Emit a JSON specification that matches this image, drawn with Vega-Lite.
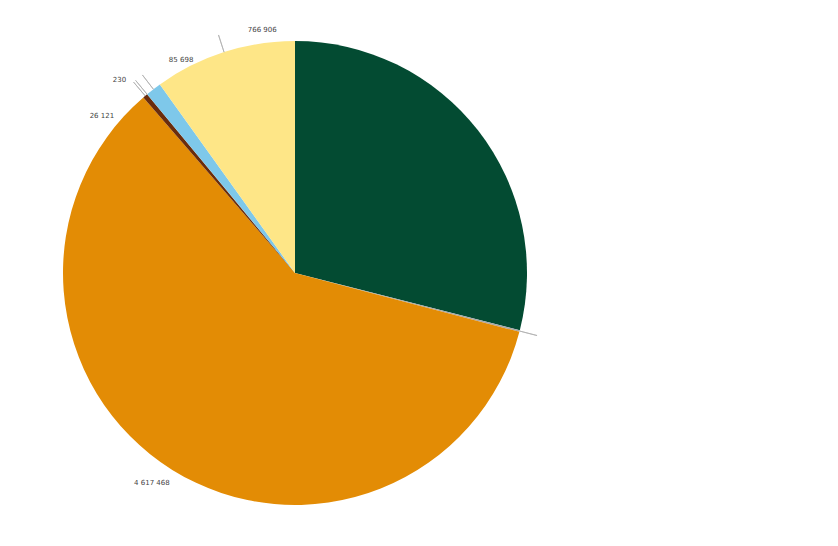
{
  "$schema": "https://vega.github.io/schema/vega-lite/v6.json",
  "width": 590,
  "height": 546,
  "padding": 0,
  "autosize": "none",
  "background": "white",
  "view": {"stroke": null},
  "data": {
    "values": [
      {"name": "A", "value": 2245000, "label": "", "order": 1},
      {"name": "B", "value": 9000, "label": "", "order": 2},
      {"name": "C", "value": 4617468, "label": "4 617 468", "order": 3},
      {"name": "D", "value": 26121, "label": "26 121", "order": 4},
      {"name": "E", "value": 230, "label": "230", "order": 5},
      {"name": "F", "value": 85698, "label": "85 698", "order": 6},
      {"name": "G", "value": 766906, "label": "766 906", "order": 7}
    ]
  },
  "transform": [
    {"stack": "value", "groupby": [], "sort": [{"field": "order", "order": "ascending"}], "as": ["v0", "v1"]},
    {"calculate": "(datum.v0 + datum.v1) / 2", "as": "mid"}
  ],
  "layer": [
    {
      "mark": {"type": "arc", "outerRadius": 232, "innerRadius": 0},
      "encoding": {
        "theta": {"field": "v1", "type": "quantitative", "scale": {"zero": true, "nice": false}},
        "theta2": {"field": "v0"},
        "color": {
          "field": "name",
          "type": "nominal",
          "scale": {"domain": ["A", "B", "C", "D", "E", "F", "G"], "range": ["#034b32", "#a8a8a8", "#e38c05", "#6a2c0c", "#8a6a3a", "#7ec8ea", "#fee687"]},
          "legend": null
        }
      }
    },
    {
      "transform": [{"filter": "datum.name != 'A' && datum.name != 'C'"}],
      "mark": {"type": "arc", "radius": 250, "radius2": 232, "stroke": "#b0b0b0", "strokeWidth": 0.8, "fill": null},
      "encoding": {
        "theta": {"field": "mid", "type": "quantitative"},
        "theta2": {"field": "mid"}
      }
    },
    {
      "transform": [{"filter": "datum.name == 'G'"}],
      "mark": {"type": "text", "radius": 246, "align": "left", "baseline": "middle", "dx": 28, "dy": -9, "fontSize": 7, "font": "DejaVu Sans", "fill": "#444444"},
      "encoding": {"theta": {"field": "mid", "type": "quantitative"}, "text": {"field": "label"}}
    },
    {
      "transform": [{"filter": "datum.name == 'F'"}],
      "mark": {"type": "text", "radius": 246, "align": "left", "baseline": "middle", "dx": 24, "dy": -18, "fontSize": 7, "font": "DejaVu Sans", "fill": "#444444"},
      "encoding": {"theta": {"field": "mid", "type": "quantitative"}, "text": {"field": "label"}}
    },
    {
      "transform": [{"filter": "datum.name == 'E'"}],
      "mark": {"type": "text", "radius": 246, "align": "right", "baseline": "middle", "dx": -12, "dy": -3, "fontSize": 7, "font": "DejaVu Sans", "fill": "#444444"},
      "encoding": {"theta": {"field": "mid", "type": "quantitative"}, "text": {"field": "label"}}
    },
    {
      "transform": [{"filter": "datum.name == 'D'"}],
      "mark": {"type": "text", "radius": 246, "align": "right", "baseline": "middle", "dx": -22, "dy": 31, "fontSize": 7, "font": "DejaVu Sans", "fill": "#444444"},
      "encoding": {"theta": {"field": "mid", "type": "quantitative"}, "text": {"field": "label"}}
    },
    {
      "transform": [{"filter": "datum.name == 'C'"}],
      "mark": {"type": "text", "radius": 246, "align": "center", "baseline": "middle", "dx": -13, "dy": 1, "fontSize": 7, "font": "DejaVu Sans", "fill": "#444444"},
      "encoding": {"theta": {"field": "mid", "type": "quantitative"}, "text": {"field": "label"}}
    }
  ]
}
